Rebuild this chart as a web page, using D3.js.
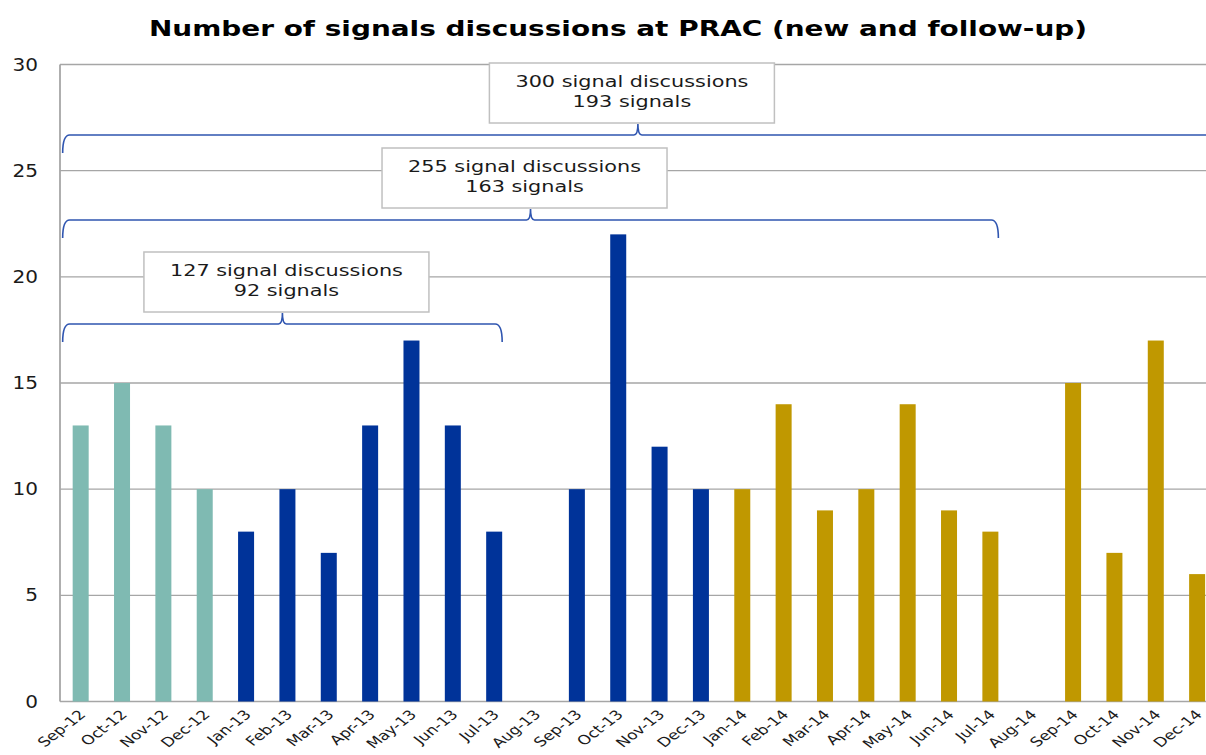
<!DOCTYPE html>
<html>
<head>
<meta charset="utf-8">
<script src="https://cdn.jsdelivr.net/npm/d3@7"></script>
<style>
  body { margin: 0; background: #fff; overflow: hidden; }
  svg { display: block; font-family: "DejaVu Sans", Verdana, sans-serif; }
</style>
</head>
<body>
<div id="chart"></div>
<script>
// Datos del grafico
const meses = ["Sep-12", "Oct-12", "Nov-12", "Dec-12",
    "Jan-13", "Feb-13", "Mar-13", "Apr-13", "May-13", "Jun-13", "Jul-13", "Aug-13",
    "Sep-13", "Oct-13", "Nov-13", "Dec-13",
    "Jan-14", "Feb-14", "Mar-14", "Apr-14", "May-14", "Jun-14", "Jul-14", "Aug-14",
    "Sep-14", "Oct-14", "Nov-14", "Dec-14"];
const senales = [13, 15, 13, 10,
    8, 10, 7, 13, 17, 13, 8, 0,
    10, 22, 12, 10,
    10, 14, 9, 10, 14, 9, 8, 0,
    15, 7, 17, 6];
const yTicks = [0, 5, 10, 15, 20, 25, 30];

// Anotaciones (llaves)
const notaTextos = [
    ["127 signal discussions", "92 signals"],
    ["255 signal discussions", "163 signals"],
    ["300 signal discussions", "193 signals"]
];
const notaInicio = ["Sep-12", "Sep-12", "Sep-12"];
const notaFin = ["Jul-13", "Jul-14", "Dec-14"];

const colores = { "12": "#7fbab2", "13": "#003399", "14": "#c09800" };

const svgWidth = 1206, svgHeight = 755;

const svg = d3.select("#chart")
    .append("svg")
    .attr("width", svgWidth)
    .attr("height", svgHeight);

const left = 60, step = 41.35;
const x = d3.scaleBand()
    .domain(meses)
    .range([left, left + step * meses.length])
    .paddingInner(0.613)
    .paddingOuter(0.3065);

const y = d3.scaleLinear()
    .domain([0, 30])
    .range([701.5, 64.5]);

// Titulo
svg.append("text")
    .attr("transform", `translate(618, 36) scale(1.27, 1)`)
    .attr("text-anchor", "middle")
    .attr("font-size", 22)
    .attr("font-weight", "bold")
    .attr("fill", "#000")
    .text("Number of signals discussions at PRAC (new and follow-up)");

// Lineas de cuadricula
svg.append("g")
    .selectAll("line")
    .data(yTicks)
    .join("line")
    .attr("x1", left)
    .attr("x2", svgWidth)
    .attr("y1", d => y(d))
    .attr("y2", d => y(d))
    .attr("stroke", "#a6a6a6")
    .attr("stroke-width", 1.4);

svg.append("line")
    .attr("x1", left).attr("x2", left)
    .attr("y1", y(30)).attr("y2", y(0))
    .attr("stroke", "#a6a6a6")
    .attr("stroke-width", 1.8);

// Etiquetas eje Y
svg.append("g")
    .selectAll("text")
    .data(yTicks)
    .join("text")
    .attr("transform", d => `translate(38, ${y(d) + 6}) scale(1.18, 1)`)
    .attr("text-anchor", "end")
    .attr("font-size", 17)
    .attr("fill", "#1a1a1a")
    .text(d => d);

// Barras
svg.append("g")
    .selectAll("rect")
    .data(meses)
    .join("rect")
    .attr("x", d => x(d))
    .attr("width", x.bandwidth())
    .attr("y", (d, i) => y(senales[i]))
    .attr("height", (d, i) => y(0) - y(senales[i]))
    .attr("fill", d => colores[d.slice(-2)]);

// Etiquetas eje X
svg.append("g")
    .selectAll("text")
    .data(meses)
    .join("text")
    .attr("transform", d => `translate(${x(d) + x.bandwidth() / 2 + 6}, ${y(0) + 14}) scale(1.3, 1) rotate(-45)`)
    .attr("text-anchor", "end")
    .attr("font-size", 13)
    .attr("fill", "#1a1a1a")
    .text(d => d);

// Llaves y cajas
const alturas = [324, 220, 135];
const desplaza = [4, -6, -6];
notaTextos.forEach((lineas, i) => {
    const x0 = x(notaInicio[i]) - 10;
    const x1 = x(notaFin[i]) + x.bandwidth() + (i === 2 ? 8 : 0);
    const yy = alturas[i];
    const cx = (x0 + x1) / 2;

    const p = d3.path();
    p.moveTo(x0, yy + 18);
    p.quadraticCurveTo(x0, yy, x0 + 7, yy);
    p.lineTo(cx - 4, yy);
    p.quadraticCurveTo(cx, yy, cx, yy - 11);
    p.quadraticCurveTo(cx, yy, cx + 4, yy);
    p.lineTo(x1 - 7, yy);
    p.quadraticCurveTo(x1, yy, x1, yy + 18);

    svg.append("path")
        .attr("d", p.toString())
        .attr("fill", "none")
        .attr("stroke", "#2f55b0")
        .attr("stroke-width", 1.6);

    const boxW = 285, boxH = 60;
    const bx = cx + desplaza[i];
    const boxTop = yy - 12 - boxH;
    svg.append("rect")
        .attr("x", bx - boxW / 2)
        .attr("y", boxTop)
        .attr("width", boxW)
        .attr("height", boxH)
        .attr("fill", "#fff")
        .attr("stroke", "#c0c0c0")
        .attr("stroke-width", 1.5);

    lineas.forEach((t, j) => {
        svg.append("text")
            .attr("transform", `translate(${bx}, ${boxTop + 24 + j * 20}) scale(1.3, 1)`)
            .attr("text-anchor", "middle")
            .attr("font-size", 16)
            .attr("fill", "#1a1a1a")
            .text(t);
    });
});
</script>
</body>
</html>
